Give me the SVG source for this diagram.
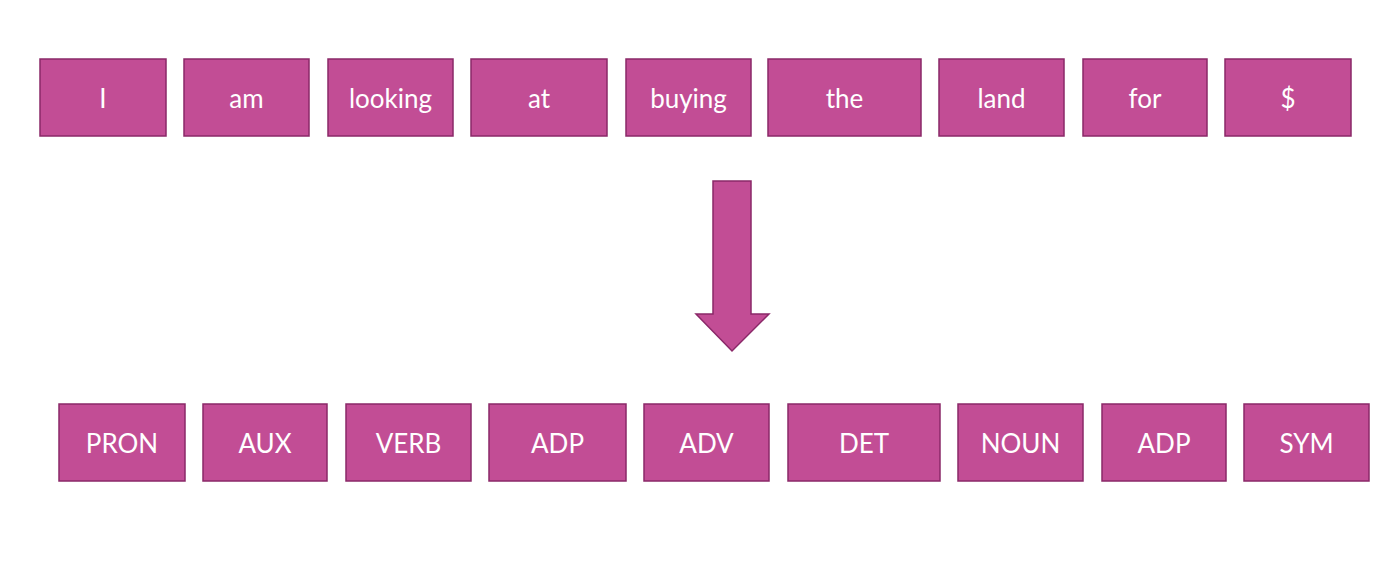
<svg xmlns="http://www.w3.org/2000/svg" width="1400" height="564" viewBox="0 0 1400 564">
<style>
.b{fill:#C24D95;stroke:#8A2868;stroke-width:1.5}
.t{fill:#ffffff;font-family:Lato,"Open Sans",sans-serif;font-size:26px;text-anchor:middle}
</style>
<rect width="1400" height="564" fill="#ffffff"/>
<g id="w1"><rect class="b" x="40" y="59" width="126" height="77"/><text class="t" x="103" y="108">I</text></g>
<g id="w2"><rect class="b" x="184" y="59" width="125" height="77"/><text class="t" x="246.5" y="108">am</text></g>
<g id="w3"><rect class="b" x="328" y="59" width="125" height="77"/><text class="t" x="390.5" y="108">looking</text></g>
<g id="w4"><rect class="b" x="471" y="59" width="136" height="77"/><text class="t" x="539" y="108">at</text></g>
<g id="w5"><rect class="b" x="626" y="59" width="125" height="77"/><text class="t" x="688.5" y="108">buying</text></g>
<g id="w6"><rect class="b" x="768" y="59" width="153" height="77"/><text class="t" x="844.5" y="108">the</text></g>
<g id="w7"><rect class="b" x="939" y="59" width="125" height="77"/><text class="t" x="1001.5" y="108">land</text></g>
<g id="w8"><rect class="b" x="1083" y="59" width="124" height="77"/><text class="t" x="1145" y="108">for</text></g>
<g id="w9"><rect class="b" x="1225" y="59" width="126" height="77"/><text class="t" x="1288" y="108">$</text></g>
<g id="connectors"><polygon class="b" points="713,181 751,181 751,314 769,314 732,351 696,314 713,314"/></g>
<g id="p1"><rect class="b" x="59" y="404" width="126" height="77"/><text class="t" x="122" y="453">PRON</text></g>
<g id="p2"><rect class="b" x="203" y="404" width="124" height="77"/><text class="t" x="265" y="453">AUX</text></g>
<g id="p3"><rect class="b" x="346" y="404" width="125" height="77"/><text class="t" x="408.5" y="453">VERB</text></g>
<g id="p4"><rect class="b" x="489" y="404" width="137" height="77"/><text class="t" x="557.5" y="453">ADP</text></g>
<g id="p5"><rect class="b" x="644" y="404" width="125" height="77"/><text class="t" x="706.5" y="453">ADV</text></g>
<g id="p6"><rect class="b" x="788" y="404" width="152" height="77"/><text class="t" x="864" y="453">DET</text></g>
<g id="p7"><rect class="b" x="958" y="404" width="125" height="77"/><text class="t" x="1020.5" y="453">NOUN</text></g>
<g id="p8"><rect class="b" x="1102" y="404" width="124" height="77"/><text class="t" x="1164" y="453">ADP</text></g>
<g id="p9"><rect class="b" x="1244" y="404" width="125" height="77"/><text class="t" x="1306.5" y="453">SYM</text></g>
</svg>
